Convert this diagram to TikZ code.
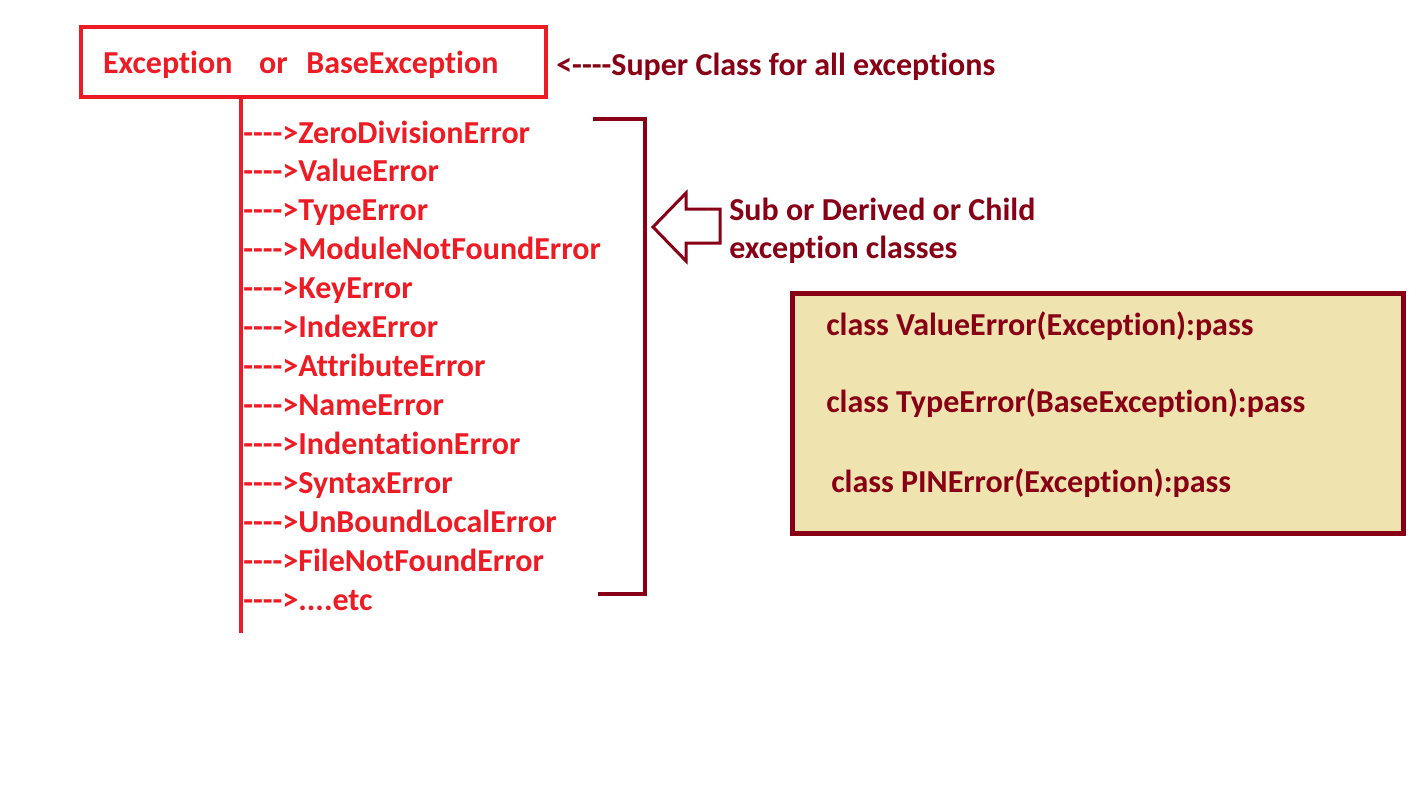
\documentclass[tikz,border=0pt]{standalone}
\usepackage{fontspec}
\newfontfamily\calibri{Carlito}[Ligatures=NoCommon]
\usepackage{xcolor}
\usepackage{tikz}
\usetikzlibrary{positioning}
\definecolor{excred}{HTML}{ED1C24}
\definecolor{darkred}{HTML}{880015}
\definecolor{codebg}{HTML}{EFE4B0}

\begin{document}
\begin{tikzpicture}[x=0.75pt, y=-0.75pt, node distance=9.8pt,
    item/.style={inner sep=0pt, text width=280pt, align=left, text height=14pt, text depth=5pt,
      text=excred, font=\calibri\bfseries\fontsize{24}{28}\selectfont},
    note/.style={inner sep=0pt, text=darkred, font=\calibri\bfseries\fontsize{24}{28}\selectfont}]
    \useasboundingbox (0,0) rectangle (1426,790);

    % super class box
    \node[draw=excred, line width=3pt, minimum width=349pt, minimum height=52.5pt, inner xsep=16.5pt,
      text width=315.75pt, align=left, text height=21.5pt, text depth=5pt, text=excred,
      font=\calibri\bfseries\fontsize{24}{28}\selectfont]
      (base) at (313.5,62) {Exception\hspace{20pt}or\hspace{14pt}BaseException};
    \node[note, anchor=base west] (super) at (556,75) {<----Super Class for all exceptions};

    % derived classes
    \node[item, anchor=base west] (zde) at (243,143) {---->ZeroDivisionError};
    \node[item, below=of zde] (val) {---->ValueError};
    \node[item, below=of val] (typ) {---->TypeError};
    \node[item, below=of typ] (mod) {---->ModuleNotFoundError};
    \node[item, below=of mod] (key) {---->KeyError};
    \node[item, below=of key] (idx) {---->IndexError};
    \node[item, below=of idx] (att) {---->AttributeError};
    \node[item, below=of att] (nam) {---->NameError};
    \node[item, below=of nam] (ind) {---->IndentationError};
    \node[item, below=of ind] (syn) {---->SyntaxError};
    \node[item, below=of syn] (ubl) {---->UnBoundLocalError};
    \node[item, below=of ubl] (fnf) {---->FileNotFoundError};
    \node[item, below=of fnf] (etc) {---->....etc};

    \coordinate (trunkend) at (241,633);
    \draw[excred, line width=3pt] (base.south -| trunkend) -- (trunkend);

    % bracket and hollow arrow
    \coordinate (brtop) at (593,119);
    \coordinate (brbot) at (598,594);
    \draw[darkred, line width=3pt] (brtop) -- ++(52,0) |- (brbot);
    \draw[darkred, line width=2.25pt, line join=miter]
      (653,227) -- (686,193) -- (686,209) -- (720,209) -- (720,243) -- (686,243) -- (686,261) -- cycle;
    \node[note, anchor=base west] (sub) at (729,220) {Sub or Derived or Child};
    \node[note, anchor=base west] (subb) at (729,258) {exception classes};

    % user defined classes
    \node[draw=darkred, fill=codebg, line width=3.75pt, minimum width=458.25pt, minimum height=180pt]
      (code) at (1097.5,413) {};
    \node[note, anchor=base west] (c1) at (826,335) {class ValueError(Exception):pass};
    \node[note, anchor=base west] (c2) at (826,412) {class TypeError(BaseException):pass};
    \node[note, anchor=base west] (c3) at (831,492) {class PINError(Exception):pass};
  \end{tikzpicture}
\end{document}
